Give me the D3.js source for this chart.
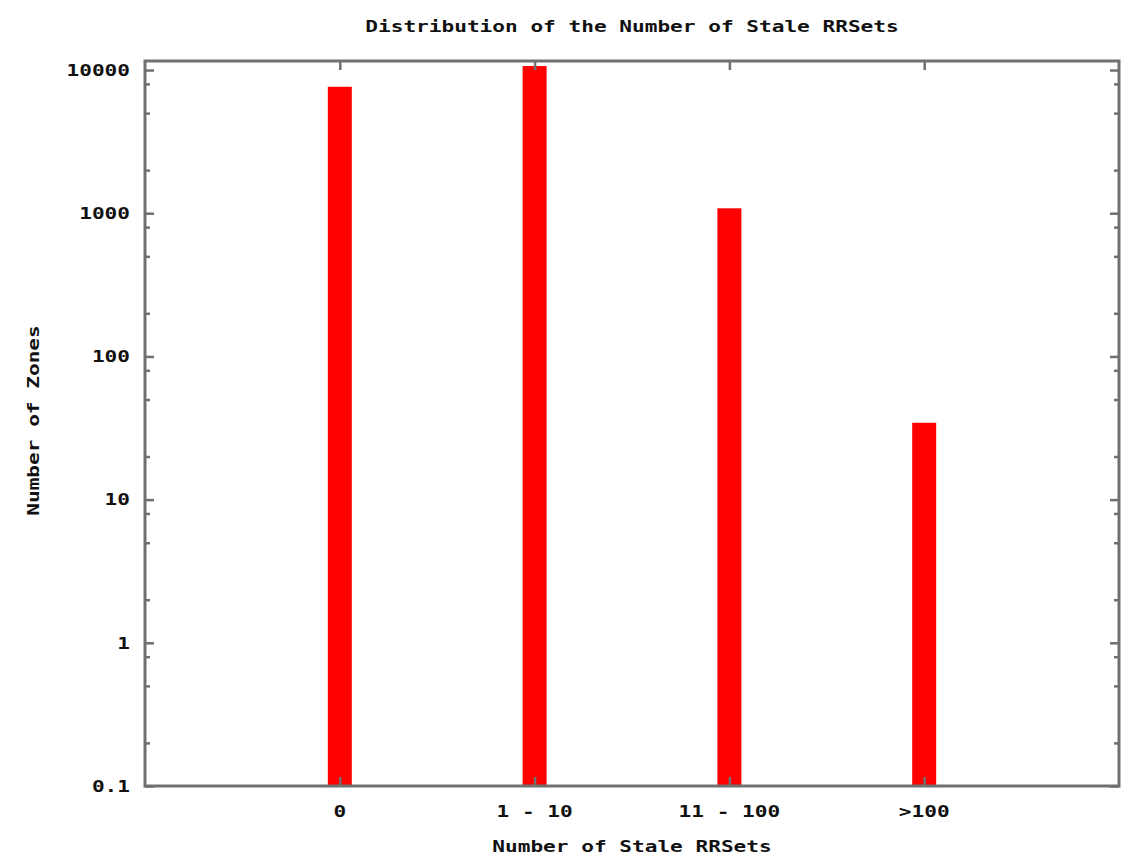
<!DOCTYPE html>
<html lang="en">
<head>
<meta charset="UTF-8">
<title>Distribution of the Number of Stale RRSets</title>
<style>
  body { margin: 0; background: #fff; }
  text { font-family: "DejaVu Sans Mono", monospace; font-weight: bold; fill: #111; }
</style>
</head>
<body>
<script src="https://d3js.org/d3.v7.min.js"></script>
<script>
const categories = ["0", "1 - 10", "11 - 100", ">100"];
const zones = [7640, 10660, 1082, 34.4];
const yTicks = [0.1, 1, 10, 100, 1000, 10000];
const yTickLabels = ["0.1", "1", "10", "100", "1000", "10000"];
const minorSteps = [2, 5, 8];

const width = 1131, height = 856;
const margin = { top: 61, right: 12, bottom: 70, left: 145 };
const iw = width - margin.left - margin.right;
const ih = height - margin.top - margin.bottom;
const frameColor = "#707070";
const charW = 12.7; // approximate width of one glyph in the original pixel font

const svg = d3.select("body").append("svg")
    .attr("width", width)
    .attr("height", height);

const g = svg.append("g")
    .attr("transform", "translate(" + margin.left + "," + margin.top + ")");

const x = d3.scaleLinear().domain([-1, categories.length]).range([0, iw]);
const y = d3.scaleLog().domain([0.1, Math.pow(10, 4.063)]).range([ih, 0]);

// minor ticks inside every decade
const minor = [];
for (let d = 0.1; d < 10000; d *= 10) {
    minorSteps.forEach(function(k) { minor.push(d * k); });
}

function fitText(sel, str) {
    sel.text(str)
        .attr("textLength", str.length * charW)
        .attr("lengthAdjust", "spacingAndGlyphs");
}

// bars
g.selectAll("rect.bar")
    .data(zones)
    .enter()
    .append("rect")
    .attr("class", "bar")
    .attr("x", function(d, i) { return x(i) - 12; })
    .attr("width", 24)
    .attr("y", function(d) { return y(d); })
    .attr("height", function(d) { return ih - y(d); })
    .attr("fill", "#ff0000");

// y ticks left and right (mirrored, gnuplot style)
const leftAxis = d3.axisRight(y).tickValues(yTicks).tickSize(9).tickFormat("");
const rightAxis = d3.axisLeft(y).tickValues(yTicks).tickSize(9).tickFormat("");
const leftMinor = d3.axisRight(y).tickValues(minor).tickSize(5).tickFormat("");
const rightMinor = d3.axisLeft(y).tickValues(minor).tickSize(5).tickFormat("");
g.append("g").call(leftAxis);
g.append("g").call(leftMinor);
g.append("g").attr("transform", "translate(" + iw + ",0)").call(rightAxis);
g.append("g").attr("transform", "translate(" + iw + ",0)").call(rightMinor);

// x ticks bottom and top
const catIdx = d3.range(categories.length);
const bottomAxis = d3.axisTop(x).tickValues(catIdx).tickSize(9).tickFormat("");
const topAxis = d3.axisBottom(x).tickValues(catIdx).tickSize(9).tickFormat("");
g.append("g").attr("transform", "translate(0," + ih + ")").call(bottomAxis);
g.append("g").call(topAxis);

g.selectAll(".domain").remove();
g.selectAll(".tick line").attr("stroke", frameColor).attr("stroke-width", 2.5);

// frame
g.append("rect")
    .attr("width", iw)
    .attr("height", ih)
    .attr("fill", "none")
    .attr("stroke", frameColor)
    .attr("stroke-width", 3);

// y tick labels
g.selectAll("text.ylab")
    .data(yTicks)
    .enter()
    .append("text")
    .attr("class", "ylab")
    .attr("x", -15)
    .attr("y", function(d) { return y(d); })
    .attr("dy", "0.36em")
    .attr("text-anchor", "end")
    .style("font-size", "16px")
    .each(function(d, i) { fitText(d3.select(this), yTickLabels[i]); });

// x tick labels
g.selectAll("text.xlab")
    .data(categories)
    .enter()
    .append("text")
    .attr("class", "xlab")
    .attr("x", function(d, i) { return x(i); })
    .attr("y", ih + 31)
    .attr("text-anchor", "middle")
    .style("font-size", "16px")
    .each(function(d) { fitText(d3.select(this), d); });

// titles
svg.append("text")
    .attr("x", margin.left + iw / 2)
    .attr("y", 32)
    .attr("text-anchor", "middle")
    .style("font-size", "16px")
    .call(fitText, "Distribution of the Number of Stale RRSets");

svg.append("text")
    .attr("x", margin.left + iw / 2)
    .attr("y", 852)
    .attr("text-anchor", "middle")
    .style("font-size", "16px")
    .call(fitText, "Number of Stale RRSets");

svg.append("text")
    .attr("transform", "translate(39," + (margin.top + ih / 2 - 3) + ") rotate(-90)")
    .attr("text-anchor", "middle")
    .style("font-size", "16px")
    .call(fitText, "Number of Zones");
</script>
</body>
</html>
